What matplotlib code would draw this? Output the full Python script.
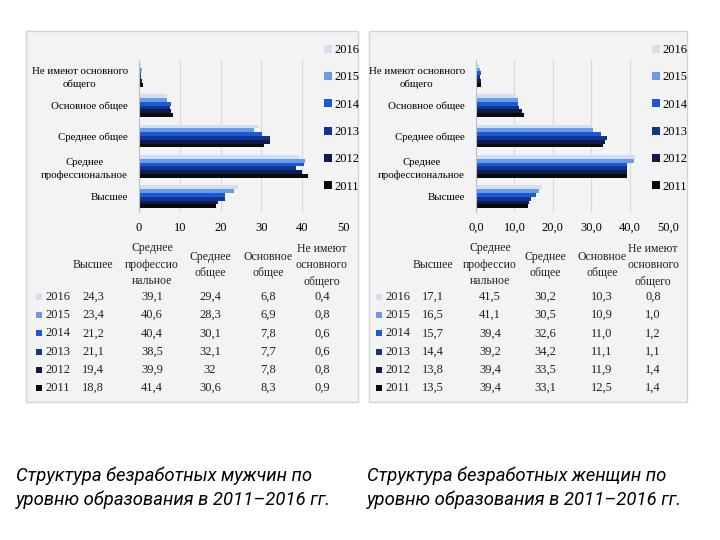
import matplotlib.pyplot as plt
from matplotlib.patches import Rectangle

# категории (снизу вверх на графике)
categories = ["Высшее", "Среднее\nпрофессиональное", "Среднее общее",
              "Основное общее", "Не имеют основного\nобщего"]
header_labels = ["Высшее", "Среднее\nпрофессио\nнальное", "Среднее\nобщее",
                 "Основное\nобщее", "Не имеют\nосновного\nобщего"]
years = ["2016", "2015", "2014", "2013", "2012", "2011"]
colors = ["#d3def3", "#6a9be6", "#1a5ad6", "#123593", "#0d1b4f", "#0a0a0a"]

# мужчины, по годам (2016 ... 2011), значения по категориям
men_2016 = [24.3, 39.1, 29.4, 6.8, 0.4]
men_2015 = [23.4, 40.6, 28.3, 6.9, 0.8]
men_2014 = [21.2, 40.4, 30.1, 7.8, 0.6]
men_2013 = [21.1, 38.5, 32.1, 7.7, 0.6]
men_2012 = [19.4, 39.9, 32.0, 7.8, 0.8]
men_2011 = [18.8, 41.4, 30.6, 8.3, 0.9]
men_text = [["24,3", "39,1", "29,4", "6,8", "0,4"],
            ["23,4", "40,6", "28,3", "6,9", "0,8"],
            ["21,2", "40,4", "30,1", "7,8", "0,6"],
            ["21,1", "38,5", "32,1", "7,7", "0,6"],
            ["19,4", "39,9", "32", "7,8", "0,8"],
            ["18,8", "41,4", "30,6", "8,3", "0,9"]]

# женщины
women_2016 = [17.1, 41.5, 30.2, 10.3, 0.8]
women_2015 = [16.5, 41.1, 30.5, 10.9, 1.0]
women_2014 = [15.7, 39.4, 32.6, 11.0, 1.2]
women_2013 = [14.4, 39.2, 34.2, 11.1, 1.1]
women_2012 = [13.8, 39.4, 33.5, 11.9, 1.4]
women_2011 = [13.5, 39.4, 33.1, 12.5, 1.4]

men = [men_2016, men_2015, men_2014, men_2013, men_2012, men_2011]
women = [women_2016, women_2015, women_2014, women_2013, women_2012, women_2011]

captions = ["Структура безработных мужчин по\nуровню образования в 2011–2016 гг.",
            "Структура безработных женщин по\nуровню образования в 2011–2016 гг."]

SERIF = "Liberation Serif"
FS = 8.5
W, H = 720, 540

fig = plt.figure(figsize=(7.2, 5.4), dpi=100)


def fx(px):
    return px / W


def fy(py):
    return 1 - py / H


def fmt_table(data, r, k):
    if data is men:
        return men_text[r][k]
    return f"{data[r][k]:.1f}".replace(".", ",")


def panel(x0, x1, ax_x0, ax_x1, data, fmt, legend_x, col_x, lab_x, sq_x):
    # фон панели
    fig.patches.append(Rectangle((fx(x0), fy(402)), fx(x1 - x0), (402 - 31) / H,
                                 transform=fig.transFigure, facecolor="#f3f3f3",
                                 edgecolor="#d4d4d4", lw=1, zorder=-1))
    ax = fig.add_axes([fx(ax_x0), fy(212), fx(ax_x1 - ax_x0), (212 - 60) / H])
    ax.set_zorder(2)
    ax.set_facecolor("none")
    h = 0.125
    n = len(years)
    for j, (yr, vals, c) in enumerate(zip(years, data, colors)):
        off = (n - 1 - j - (n - 1) / 2) * h
        ax.barh([i + off for i in range(len(categories))], vals, height=h,
                color=c, label=yr, zorder=2)
    ax.set_xlim(0, 50)
    ax.set_ylim(-0.5, 4.5)
    ax.set_xticks(range(0, 51, 10))
    ax.set_xticklabels([fmt(v) for v in range(0, 51, 10)], fontfamily=SERIF, fontsize=FS + 0.5)
    ax.set_yticks(range(len(categories)))
    ax.set_yticklabels(categories, fontfamily=SERIF, fontsize=7.8,
                       multialignment="center", linespacing=1.45)
    ax.tick_params(axis="y", length=0, pad=8)
    ax.tick_params(axis="x", length=0, pad=7)
    ax.grid(axis="x", color="#d9d9d9", lw=0.8, zorder=0)
    for s in ["top", "right", "bottom"]:
        ax.spines[s].set_visible(False)
    ax.spines["left"].set_color("#bfbfbf")
    ax.spines["left"].set_zorder(3)
    ax.legend(loc="upper left", bbox_to_anchor=(fx(legend_x), fy(38)),
              bbox_transform=fig.transFigure, frameon=False,
              prop={"family": SERIF, "size": FS + 0.5}, handlelength=0.6,
              handleheight=0.6, handletextpad=0.2, labelspacing=1.22,
              borderpad=0)

    # таблица данных
    for k, lab in enumerate(header_labels):
        fig.text(fx(col_x[k]), fy(265), lab, ha="center", va="center",
                 family=SERIF, fontsize=FS, linespacing=1.5, color="#222222")
    for r, yr in enumerate(years):
        y = 297 + r * 18.2
        fig.patches.append(Rectangle((fx(sq_x), fy(y + 3)), fx(6), 6 / H,
                                     transform=fig.transFigure,
                                     facecolor=colors[r], edgecolor="none"))
        fig.text(fx(lab_x), fy(y), yr, ha="left", va="center",
                 family=SERIF, fontsize=FS + 0.5, color="#222222")
        for k in range(len(categories)):
            fig.text(fx(col_x[k]), fy(y), fmt_table(data, r, k), ha="center",
                     va="center", family=SERIF, fontsize=FS + 0.5, color="#222222")
    return ax


panel(26, 358, 139, 343, men, lambda v: f"{v}", 318,
      [93, 152, 210, 268, 322], 45, 36)
panel(369, 687, 476, 668, women, lambda v: f"{v:.1f}".replace(".", ","), 646,
      [433, 490, 545, 602, 653], 385, 376)

fig.text(fx(16), fy(488), captions[0], ha="left", va="center", fontsize=13.3,
         style="italic", family="Roboto", linespacing=1.35)
fig.text(fx(367), fy(488), captions[1], ha="left", va="center", fontsize=13.3,
         style="italic", family="Roboto", linespacing=1.35)

fig.savefig("out.png", dpi=100)
